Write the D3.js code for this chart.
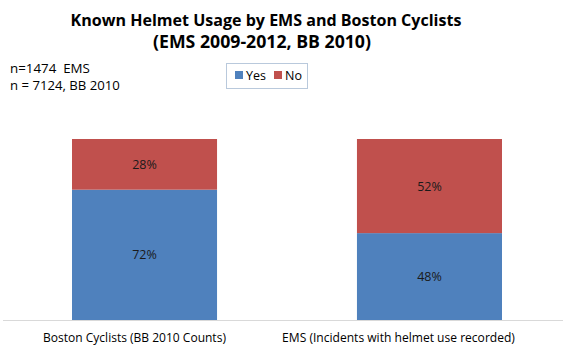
<!DOCTYPE html>
<html>
<head>
<meta charset="utf-8">
<script src="https://cdn.jsdelivr.net/npm/d3@7"></script>
<style>
  body { margin: 0; background: #fff; }
  text { font-family: "Open Sans", Lato, sans-serif; white-space: pre; }
</style>
</head>
<body>
<div id="chartVis"></div>
<script>
  // data
  var categories = ["Boston Cyclists (BB 2010 Counts)", "EMS (Incidents with helmet use recorded)"];
  var seriesNames = ["Yes", "No"];
  var yesValues = [0.72, 0.48];
  var noValues = [0.28, 0.52];
  var notes = ["n=1474  EMS", "n = 7124, BB 2010"];

  var width = 563;
  var height = 351;
  var colors = { Yes: "#4F81BD", No: "#C0504D" };

  var svg = d3.select("#chartVis")
    .append("svg")
    .attr("width", width)
    .attr("height", height);

  // shrink/grow a text so it is as wide as in the picture (Calibri is not installed)
  function fitWidth(sel, target) {
    var w = sel.node().getComputedTextLength();
    var fs = parseFloat(sel.attr("font-size"));
    sel.attr("font-size", fs * target / w);
  }

  var xScale = d3.scaleBand().domain(categories).range([72, 502]).paddingInner(0.491);
  var yScale = d3.scaleLinear().domain([0, 1]).range([320, 139]);

  // build stacked rows
  var rows = categories.map(function (c, i) {
    return { cat: c, Yes: yesValues[i], No: noValues[i] };
  });
  var stacked = d3.stack().keys(seriesNames)(rows);

  // title
  var t1 = svg.append("text")
    .attr("x", 266).attr("y", 26)
    .attr("text-anchor", "middle")
    .attr("font-size", 16).attr("font-weight", "bold")
    .text("Known Helmet Usage by EMS and Boston Cyclists");
  fitWidth(t1, 391);
  var t2 = svg.append("text")
    .attr("x", 262).attr("y", 48)
    .attr("text-anchor", "middle")
    .attr("font-size", 16).attr("font-weight", "bold")
    .text("(EMS 2009-2012, BB 2010)");
  fitWidth(t2, 218);

  // n notes
  var noteW = [80, 110];
  notes.forEach(function (n, i) {
    var t = svg.append("text")
      .attr("x", 10)
      .attr("y", 73 + i * 17)
      .attr("font-size", 13)
      .text(n);
    fitWidth(t, noteW[i]);
  });

  // bars
  stacked.forEach(function (layer) {
    var g = svg.append("g");
    g.selectAll("rect").data(layer).enter()
      .append("rect")
      .attr("x", function (d) { return xScale(d.data.cat); })
      .attr("y", function (d) { return yScale(d[1]); })
      .attr("width", xScale.bandwidth())
      .attr("height", function (d) { return yScale(d[0]) - yScale(d[1]); })
      .attr("fill", colors[layer.key]);

    g.selectAll("text").data(layer).enter()
      .append("text")
      .attr("x", function (d) { return xScale(d.data.cat) + xScale.bandwidth() / 2; })
      .attr("y", function (d) { return (yScale(d[0]) + yScale(d[1])) / 2 + 4.5; })
      .attr("text-anchor", "middle")
      .attr("font-size", 12.5)
      .attr("fill", "#1a1a1a")
      .text(function (d) { return Math.round((d[1] - d[0]) * 100) + "%"; });
  });

  // axis line
  svg.append("line")
    .attr("x1", 3).attr("x2", 563)
    .attr("y1", 320.5).attr("y2", 320.5)
    .attr("stroke", "#d9d9d9")
    .attr("stroke-width", 1);

  // category labels (Excel puts them a bit left of centre)
  var labelX = [134.5, 398.5];
  var labelW = [183, 233];
  categories.forEach(function (c, i) {
    var t = svg.append("text")
      .attr("x", labelX[i])
      .attr("y", 342)
      .attr("text-anchor", "middle")
      .attr("font-size", 12)
      .text(c);
    fitWidth(t, labelW[i]);
  });

  // legend
  var legend = svg.append("g").attr("transform", "translate(226,63)");
  legend.append("rect")
    .attr("x", 0.5).attr("y", 0.5)
    .attr("width", 81).attr("height", 25)
    .attr("fill", "#fff")
    .attr("stroke", "#b9c9dc");
  var legX = [9, 48];
  seriesNames.forEach(function (s, i) {
    legend.append("rect")
      .attr("x", legX[i]).attr("y", 8)
      .attr("width", 8).attr("height", 8)
      .attr("fill", colors[s]);
    legend.append("text")
      .attr("x", legX[i] + 11)
      .attr("y", 17)
      .attr("font-size", 12.5)
      .text(s);
  });
</script>
</body>
</html>
